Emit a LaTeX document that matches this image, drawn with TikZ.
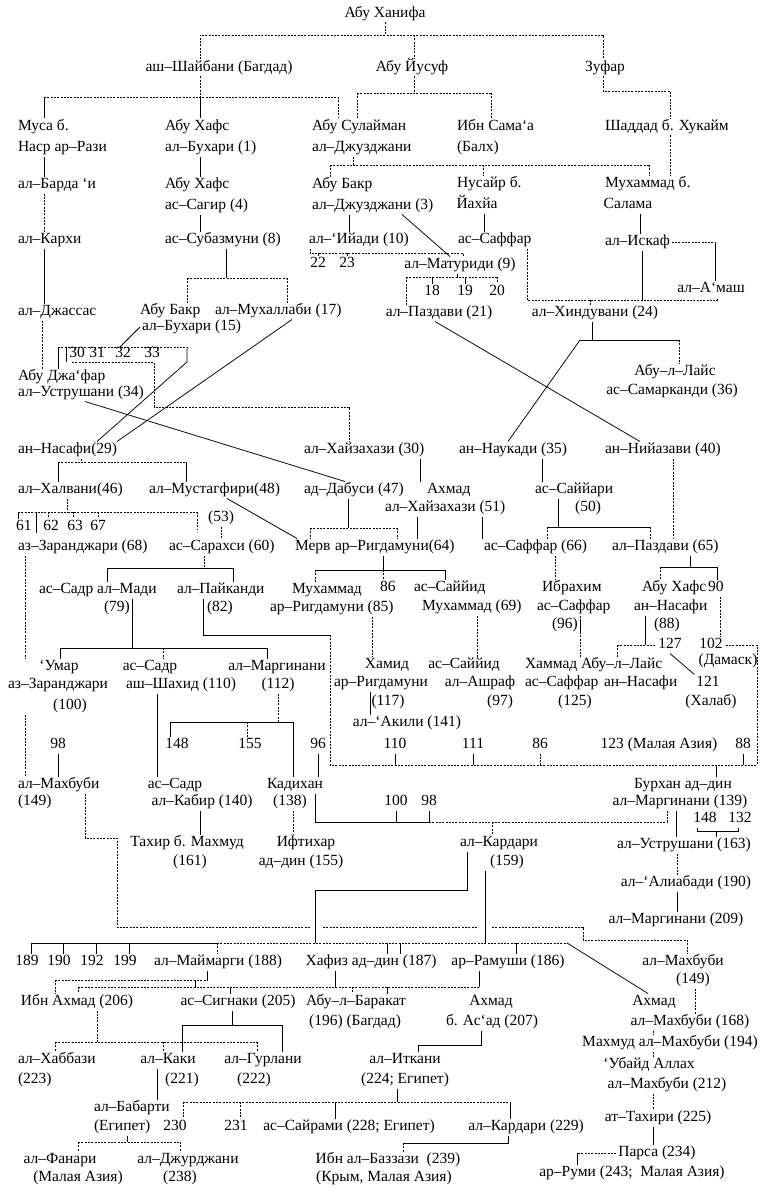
\documentclass[tikz,border=0pt]{standalone}
\usepackage{fontspec}
\setmainfont{Liberation Serif}
\begin{document}
\begin{tikzpicture}[x=1pt,y=-1pt,
  t/.style={inner sep=0pt,outer sep=2pt,text height=10pt,text depth=3pt,font=\fontsize{15.5}{17}\selectfont},
  tl/.style={t,anchor=west},
  sl/.style={line width=0.75pt},
  dl/.style={line width=0.75pt,dash pattern=on 2pt off 1.3pt}]
\useasboundingbox (0,0) rectangle (771,1188);
\fill[white] (0,0) rectangle (771,1188);
% ---------------- nodes ----------------
\node[t] (hanifa) at (385,14) {Абу Ханифа};
\node[t] (shaib) at (219,68) {аш–Шайбани (Багдад)};
\node[t] (yusuf) at (412,68) {Абу Йусуф};
\node[t] (zufar) at (605,68) {Зуфар};
\node[tl] (musa1) at (16,127) {Муса б.};
\node[tl] (musa2) at (16,148) {Наср ар–Рази};
\node[tl] (hafs1) at (163,127) {Абу Хафс};
\node[tl] (hafs2) at (163,148) {ал–Бухари (1)};
\node[tl] (sulay1) at (310,127) {Абу Сулайман};
\node[tl] (sulay2) at (310,148) {ал–Джузджани};
\node[tl] (sama1) at (455,127) {Ибн Сама‘а};
\node[tl] (sama2) at (455,148) {(Балх)};
\node[tl] (shadd) at (603,127) {Шаддад б. Хукайм};
\node[tl] (barda) at (16,185) {ал–Барда ‘и};
\node[tl] (hafs3) at (163,185) {Абу Хафс};
\node[tl] (hafs4) at (163,206) {ас–Сагир (4)};
\node[tl] (bakr1) at (310,185) {Абу Бакр};
\node[tl] (bakr2) at (310,206) {ал–Джузджани (3)};
\node[tl] (nus1) at (455,184) {Нусайр б.};
\node[t] (nus2) at (477,205) {Йахйа};
\node[tl] (mukh1) at (603,184) {Мухаммад б.};
\node[t] (mukh2) at (628,205) {Салама};
\node[tl] (karkhi) at (16,240) {ал–Кархи};
\node[tl] (subaz) at (163,240) {ас–Субазмуни (8)};
\node[tl] (iyadi) at (307,240) {ал–‘Ийади (10)};
\node[tl] (saffar1) at (456,240) {ас–Саффар};
\node[tl] (iskaf) at (603,242) {ал–Искаф};
\node[t] (n22) at (318,264) {22};
\node[t] (n23) at (347,264) {23};
\node[t] (matur) at (460,265) {ал–Матуриди (9)};
\node[t] (n18) at (432,292) {18};
\node[t] (n19) at (465,292) {19};
\node[t] (n20) at (497,292) {20};
\node[t] (amash) at (711,289) {ал–А‘маш};
\node[t] (pazd21) at (439,313) {ал–Паздави (21)};
\node[t] (hind) at (595,313) {ал–Хиндувани (24)};
\node[tl] (dzhass) at (16,312) {ал–Джассас};
\node[tl] (bakr15a) at (138,311) {Абу Бакр};
\node[tl] (muhal) at (213,311) {ал–Мухаллаби (17)};
\node[tl] (bakr15b) at (140,327) {ал–Бухари (15)};
\node[t] (n30) at (77,354) {30};
\node[t] (n31) at (97,354) {31};
\node[t] (n32) at (123,354) {32};
\node[t] (n33) at (152,354) {33};
\node[tl] (jafar1) at (16,377) {Абу Джа‘фар};
\node[tl] (jafar2) at (16,393) {ал–Уструшани (34)};
\node[t] (abul1) at (675,372) {Абу–л–Лайс};
\node[t] (abul2) at (672,391) {ас–Самарканди (36)};
\node[tl] (nasafi29) at (16,450) {ан–Насафи(29)};
\node[tl] (hayz30) at (302,450) {ал–Хайзахази (30)};
\node[tl] (naukadi) at (457,450) {ан–Наукади (35)};
\node[tl] (niyaz) at (603,450) {ан–Нийазави (40)};
\node[tl] (halv) at (16,490) {ал–Халвани(46)};
\node[tl] (must) at (147,490) {ал–Мустагфири(48)};
\node[tl] (dabusi) at (302,490) {ад–Дабуси (47)};
\node[tl] (akh51a) at (425,490) {Ахмад};
\node[tl] (akh51b) at (383,508) {ал–Хайзахази (51)};
\node[tl] (sayy1) at (533,490) {ас–Саййари};
\node[t] (sayy2) at (588,508) {(50)};
\node[t] (n61) at (24,527) {61};
\node[t] (n62) at (51,527) {62};
\node[t] (n63) at (75,527) {63};
\node[t] (n67) at (98,527) {67};
\node[t] (n53) at (221,518) {(53)};
\node[tl] (zar68) at (16,547) {аз–Заранджари (68)};
\node[tl] (sarakh) at (167,547) {ас–Сарахси (60)};
\node[tl] (merv) at (293,547) {Мерв};
\node[tl] (rigd64) at (333,547) {ар–Ригдамуни(64)};
\node[tl] (saff66) at (482,547) {ас–Саффар (66)};
\node[tl] (pazd65) at (610,547) {ал–Паздави (65)};
\node[tl] (sadr79a) at (37,590) {ас–Садр ал–Мади};
\node[tl] (sadr79b) at (102,608) {(79)};
\node[tl] (payk1) at (175,590) {ал–Пайканди};
\node[tl] (payk2) at (205,608) {(82)};
\node[tl] (muh85a) at (290,590) {Мухаммад};
\node[tl] (muh85b) at (268,608) {ар–Ригдамуни (85)};
\node[tl] (n86a) at (378,588) {86};
\node[tl] (sayy69a) at (412,588) {ас–Саййид};
\node[tl] (sayy69b) at (420,607) {Мухаммад (69)};
\node[tl] (ibr1) at (540,588) {Ибрахим};
\node[tl] (ibr2) at (535,607) {ас–Саффар};
\node[tl] (ibr3) at (550,625) {(96)};
\node[tl] (hafs88a) at (640,588) {Абу Хафс};
\node[tl] (n90) at (706,588) {90};
\node[tl] (hafs88b) at (632,607) {ан–Насафи};
\node[tl] (hafs88c) at (652,625) {(88)};
\node[t] (umar1) at (59,667) {‘Умар};
\node[t] (umar2) at (58,685) {аз–Заранджари};
\node[t] (umar3) at (70,706) {(100)};
\node[t] (sadr110a) at (150,667) {ас–Садр};
\node[t] (sadr110b) at (181,685) {аш–Шахид (110)};
\node[t] (marg112a) at (277,667) {ал–Маргинани};
\node[t] (marg112b) at (278,685) {(112)};
\node[t] (hamid1) at (387,665) {Хамид};
\node[t] (hamid2) at (381,683) {ар–Ригдамуни};
\node[t] (hamid3) at (388,702) {(117)};
\node[t] (akili) at (407,723) {ал–‘Акили (141)};
\node[t] (sayy97a) at (464,665) {ас–Саййид};
\node[t] (sayy97b) at (480,683) {ал–Ашраф};
\node[t] (sayy97c) at (500,702) {(97)};
\node[tl] (hamm1) at (523,665) {Хаммад};
\node[tl] (hamm2) at (523,683) {ас–Саффар};
\node[t] (hamm3) at (575,702) {(125)};
\node[tl] (abul88a) at (579,665) {Абу–л–Лайс};
\node[tl] (abul88b) at (602,683) {ан–Насафи};
\node[t] (n127) at (670,645) {127};
\node[t] (n102) at (711,645) {102};
\node[t] (damask) at (728,661) {(Дамаск)};
\node[t] (n121) at (708,683) {121};
\node[t] (halab) at (711,702) {(Халаб)};
\node[t] (n98) at (58,745) {98};
\node[t] (n148) at (177,745) {148};
\node[t] (n155) at (250,745) {155};
\node[t] (n96) at (318,745) {96};
\node[t] (n110) at (395,745) {110};
\node[t] (n111) at (473,745) {111};
\node[t] (n86b) at (540,745) {86};
\node[t] (n123) at (659,745) {123 (Малая Азия)};
\node[t] (n88b) at (743,745) {88};
\node[tl] (mahbL1) at (16,785) {ал–Махбуби};
\node[tl] (mahbL2) at (16,802) {(149)};
\node[t] (sadr140a) at (175,785) {ас–Садр};
\node[t] (sadr140b) at (202,802) {ал–Кабир (140)};
\node[t] (kadi1) at (295,785) {Кадихан};
\node[t] (kadi2) at (290,802) {(138)};
\node[t] (burh1) at (683,785) {Бурхан ад–дин};
\node[t] (burh2) at (680,802) {ал–Маргинани (139)};
\node[t] (n100) at (396,802) {100};
\node[t] (n98b) at (429,802) {98};
\node[t] (n148b) at (705,819) {148};
\node[t] (n132) at (740,819) {132};
\node[t] (tahir1) at (187,843) {Тахир б. Махмуд};
\node[t] (tahir2) at (190,862) {(161)};
\node[t] (ift1) at (306,843) {Ифтихар};
\node[t] (ift2) at (301,862) {ад–дин (155)};
\node[t] (kard1) at (499,843) {ал–Кардари};
\node[t] (kard2) at (507,862) {(159)};
\node[t] (ustr) at (684,845) {ал–Уструшани (163)};
\node[t] (aliab) at (686,883) {ал–‘Алиабади (190)};
\node[t] (marg209) at (676,920) {ал–Маргинани (209)};
\node[t] (n189) at (27,962) {189};
\node[t] (n190) at (59,962) {190};
\node[t] (n192) at (92,962) {192};
\node[t] (n199) at (125,962) {199};
\node[t] (maim) at (218,962) {ал–Маймарги (188)};
\node[t] (hafiz) at (371,962) {Хафиз ад–дин (187)};
\node[t] (ramu) at (508,962) {ар–Рамуши (186)};
\node[t] (mahbR1) at (683,962) {ал–Махбуби};
\node[t] (mahbR2) at (693,980) {(149)};
\node[t] (ibnah) at (77,1002) {Ибн Ахмад (206)};
\node[t] (sign) at (238,1002) {ас–Сигнаки (205)};
\node[t] (bar1) at (356,1002) {Абу–л–Баракат};
\node[t] (bar2) at (355,1022) {(196) (Багдад)};
\node[t] (akh207a) at (491,1002) {Ахмад};
\node[t] (akh207b) at (492,1022) {б. Ас‘ад (207)};
\node[t] (akh168a) at (654,1002) {Ахмад};
\node[t] (akh168b) at (690,1022) {ал–Махбуби (168)};
\node[t] (mahmud) at (670,1043) {Махмуд ал–Махбуби (194)};
\node[t] (ubayd1) at (649,1065) {‘Убайд Аллах};
\node[t] (ubayd2) at (667,1085) {ал–Махбуби (212)};
\node[t] (tahiri) at (658,1118) {ат–Тахири (225)};
\node[t] (parsa) at (657,1153) {Парса (234)};
\node[t] (rumi) at (632,1173) {ар–Руми (243;\ \ Малая Азия)};
\node[tl] (khab1) at (16,1060) {ал–Хаббази};
\node[tl] (khab2) at (16,1080) {(223)};
\node[t] (kaki1) at (168,1060) {ал–Каки};
\node[t] (kaki2) at (182,1080) {(221)};
\node[t] (gurl1) at (263,1060) {ал–Гурлани};
\node[t] (gurl2) at (254,1080) {(222)};
\node[t] (itk1) at (405,1060) {ал–Иткани};
\node[t] (itk2) at (405,1080) {(224; Египет)};
\node[tl] (bab1) at (92,1108) {ал–Бабарти};
\node[tl] (bab2) at (92,1127) {(Египет)};
\node[t] (n230) at (175,1127) {230};
\node[t] (n231) at (236,1127) {231};
\node[t] (sayr) at (349,1127) {ас–Сайрами (228; Египет)};
\node[t] (kard229) at (526,1127) {ал–Кардари (229)};
\node[t] (fan1) at (60,1160) {ал–Фанари};
\node[t] (fan2) at (78,1178) {(Малая Азия)};
\node[t] (jur1) at (188,1160) {ал–Джурджани};
\node[t] (jur2) at (180,1178) {(238)};
\node[t] (baz1) at (388,1160) {Ибн ал–Баззази\ \ (239)};
\node[t] (baz2) at (384,1178) {(Крым, Малая Азия)};
% ---------------- connectors ----------------
\draw[dl] (hanifa.south) -- (385,35);
\draw[dl] (shaib.north -| 200,0) -- (200,35) -- (603,35) -- (zufar.north -| 603,0);
\draw[dl] (414,35) -- (yusuf.north -| 414,0);
\draw[dl] (shaib.south -| 200,0) -- (200,97);
\draw[dl] (44,97) -- (338,97);
\draw[sl] (44,97) -- (musa1.north -| 44,0);
\draw[sl] (200,97) -- (hafs1.north -| 200,0);
\draw[dl] (338,97) -- (sulay1.north -| 338,0);
\draw[dl] (yusuf.south -| 414,0) -- (414,93);
\draw[dl] (357,93) -- (491,93);
\draw[dl] (357,93) -- (sulay1.north -| 357,0);
\draw[dl] (491,93) -- (sama1.north -| 491,0);
\draw[dl] (zufar.south -| 603,0) -- (603,91) -- (670,91) -- (shadd.north -| 670,0);
\draw[dl] (shadd.south -| 670,0) -- (mukh1.north -| 670,0);
\draw[sl] (musa2.south -| 44,0) -- (barda.north -| 44,0);
\draw[sl] (hafs2.south -| 200,0) -- (hafs3.north -| 200,0);
\draw[dl] (sulay2.south -| 353,0) -- (353,165);
\draw[dl] (330,165) -- (649,165);
\draw[dl] (330,165) -- (bakr1.north -| 330,0);
\draw[dl] (483,165) -- (nus1.north -| 483,0);
\draw[dl] (649,165) -- (mukh1.north -| 649,0);
\draw[dl] (barda.south -| 44,0) -- (karkhi.north -| 44,0);
\draw[sl] (hafs4.south -| 200,0) -- (subaz.north -| 200,0);
\draw[sl] (bakr2.south -| 349,0) -- (iyadi.north -| 349,0);
\draw[sl] (bakr2.south -| 402,0) -- (matur.north -| 450,0);
\draw[sl] (nus2.south -| 484,0) -- (saffar1.north -| 484,0);
\draw[sl] (mukh2.south -| 640,0) -- (iskaf.north -| 640,0);
\draw[dl] (iskaf.east) -- (715,242);
\draw[sl] (715,242) -- (amash.north -| 715,0);
\draw[dl] (iyadi.south -| 310,0) -- (310,253) -- (463,253) -- (matur.north -| 463,0);
\draw[sl] (318,253) -- (n22.north);
\draw[sl] (347,253) -- (n23.north);
\draw[sl] (matur.south -| 457,0) -- (457,277);
\draw[dl] (406,277) -- (497,277);
\draw[sl] (432,277) -- (n18.north);
\draw[sl] (465,277) -- (n19.north);
\draw[dl] (497,277) -- (n20.north);
\draw[dl] (406,277) -- (pazd21.north -| 406,0);
\draw[dl] (saffar1.south -| 527,0) -- (527,300) -- (717,300) -- (amash.south -| 717,0);
\draw[sl] (iskaf.south -| 642,0) -- (642,300);
\draw[dl] (590,300) -- (hind.north -| 590,0);
\draw[sl] (karkhi.south -| 44,0) -- (dzhass.north -| 44,0);
\draw[sl] (subaz.south -| 226,0) -- (226,278);
\draw[dl] (187,278) -- (287,278);
\draw[dl] (187,278) -- (bakr15a.north -| 187,0);
\draw[dl] (287,278) -- (muhal.north -| 287,0);
\draw[sl] (bakr15b.west) -- (120,347);
\draw[dl] (58,347) -- (187,347);
\draw[sl] (58,347) -- (jafar1.north -| 58,0);
\draw[sl] (66,347) -- (66,362);
\draw[dl] (152,347) -- (n33.north);
\draw[sl] (187,347) -- (187,362) -- (nasafi29.north -| 97,0);
\draw[dl] (72,362) -- (154,362) -- (154,407) -- (349,407) -- (hayz30.north -| 349,0);
\draw[dl] (dzhass.south -| 42,0) -- (jafar1.north -| 42,0);
\draw[sl] (hind.south -| 592,0) -- (592,340);
\draw[sl] (580,340) -- (679,340);
\draw[dl] (679,340) -- (abul1.north -| 679,0);
\draw[sl] (580,340) -- (naukadi.north -| 508,0);
\draw[sl] (pazd21.south -| 435,0) -- (niyaz.north -| 640,0);
\draw[sl] (muhal.south -| 292,0) -- (nasafi29.north -| 117,0);
\draw[sl] (jafar2.south -| 85,0) -- (dabusi.north -| 345,0);
\draw[dl] (nasafi29.south -| 81,0) -- (81,462);
\draw[dl] (58,462) -- (186,462);
\draw[sl] (58,462) -- (halv.north -| 58,0);
\draw[sl] (186,462) -- (must.north -| 186,0);
\draw[sl] (hayz30.south -| 420,0) -- (akh51a.north -| 420,0);
\draw[sl] (naukadi.south -| 542,0) -- (sayy1.north -| 542,0);
\draw[dl] (niyaz.south -| 673,0) -- (pazd65.north -| 673,0);
\draw[dl] (halv.south -| 67,0) -- (67,512);
\draw[dl] (18,512) -- (197,512);
\draw[sl] (18,512) -- (n61.north -| 18,0);
\draw[dl] (48,512) -- (n62.north -| 48,0);
\draw[dl] (73,512) -- (n63.north -| 73,0);
\draw[dl] (98,512) -- (n67.north -| 98,0);
\draw[sl] (36,512) -- (36,533);
\draw[dl] (197,512) -- (197,530);
\draw[dl] (n53.south) -- (sarakh.north -| 221,0);
\draw[sl] (must.south -| 227,0) -- (merv.north -| 297,0);
\draw[sl] (dabusi.south -| 348,0) -- (348,528);
\draw[dl] (310,528) -- (397,528);
\draw[dl] (310,528) -- (merv.north -| 310,0);
\draw[dl] (397,528) -- (rigd64.north -| 397,0);
\draw[sl] (akh51b.south -| 417,0) -- (rigd64.north -| 417,0);
\draw[sl] (akh51b.south -| 482,0) -- (saff66.north -| 482,0);
\draw[sl] (sayy1.south -| 558,0) -- (558,527);
\draw[sl] (547,527) -- (650,527);
\draw[dl] (547,527) -- (saff66.north -| 547,0);
\draw[dl] (650,527) -- (pazd65.north -| 650,0);
\draw[dl] (sarakh.south -| 204,0) -- (204,568);
\draw[sl] (107,568) -- (233,568);
\draw[sl] (107,568) -- (sadr79a.north -| 107,0);
\draw[sl] (233,568) -- (payk1.north -| 233,0);
\draw[sl] (rigd64.south -| 383,0) -- (383,570);
\draw[sl] (315,570) -- (445,570);
\draw[dl] (315,570) -- (muh85a.north -| 315,0);
\draw[dl] (383,570) -- (n86a.north -| 383,0);
\draw[sl] (445,570) -- (sayy69a.north -| 445,0);
\draw[dl] (saff66.south -| 555,0) -- (ibr1.north -| 555,0);
\draw[sl] (pazd65.south -| 690,0) -- (690,567);
\draw[sl] (660,567) -- (717,567);
\draw[dl] (660,567) -- (hafs88a.north -| 660,0);
\draw[sl] (717,567) -- (n90.north -| 717,0);
\draw[dl] (zar68.south -| 25,0) -- (umar1.north -| 25,0);
\draw[sl] (sadr79a.south -| 132,0) -- (132,648);
\draw[sl] (60,648) -- (267,648);
\draw[sl] (60,648) -- (umar1.north -| 60,0);
\draw[dl] (163,648) -- (sadr110a.north -| 163,0);
\draw[sl] (267,648) -- (marg112a.north -| 267,0);
\draw[sl] (payk1.south -| 203,0) -- (203,635) -- (330,635);
\draw[dl] (330,635) -- (330,765) -- (757,765) -- (757,645) -- (n102.east);
\draw[sl] (n110.south) -- (395,765);
\draw[sl] (n111.south) -- (473,765);
\draw[dl] (n86b.south) -- (540,765);
\draw[sl] (n88b.south) -- (743,765);
\draw[sl] (716,765) -- (burh1.north -| 716,0);
\draw[dl] (muh85b.south -| 372,0) -- (hamid1.north -| 372,0);
\draw[sl] (hamid2.south -| 370,0) -- (akili.north -| 370,0);
\draw[dl] (sayy69b.south -| 477,0) -- (sayy97a.north -| 477,0);
\draw[sl] (ibr3.east) ++(1,-6) -- ++(0,14);
\draw[dl] (ibr2.south -| 580,0) -- (hamm1.north -| 580,0);
\draw[dl] (n90.south -| 720,0) -- (n102.north -| 720,0);
\draw[sl] (hafs88b.south -| 645,0) -- (645,645);
\draw[dl] (617,645) -- (n127.west);
\draw[dl] (617,645) -- (abul88a.north -| 617,0);
\draw[sl] (n127.south) -- (n121.north west);
\draw[dl] (marg112b.south -| 278,0) -- (278,722);
\draw[sl] (170,722) -- (293,722);
\draw[sl] (170,722) -- (n148.north -| 170,0);
\draw[dl] (247,722) -- (n155.north -| 247,0);
\draw[sl] (293,722) -- (kadi1.north -| 293,0);
\draw[sl] (n96.south) -- (kadi1.north -| 318,0);
\draw[sl] (n98.south) -- (mahbL1.north -| 58,0);
\draw[dl] (umar3.south -| 25,0) -- (mahbL1.north -| 25,0);
\draw[sl] (sadr110b.south -| 157,0) -- (sadr140a.north -| 157,0);
\draw[sl] (sadr140b.south -| 200,0) -- (tahir1.north -| 200,0);
\draw[dl] (kadi2.south -| 293,0) -- (ift1.north -| 293,0);
\draw[sl] (kadi2.north -| 315,0) -- (315,822) -- (429,822);
\draw[dl] (429,822) -- (667,822) -- (burh2.south -| 667,0);
\draw[sl] (n100.south) -- (396,822);
\draw[sl] (n98b.south) -- (429,822);
\draw[dl] (492,822) -- (kard1.north -| 492,0);
\draw[sl] (burh2.south -| 676,0) -- (ustr.north -| 676,0);
\draw[sl] (n148b.south -| 697,0) -- (697,831) -- (738,831) -- (n132.south -| 738,0);
\draw[sl] (716,831) -- (ustr.north -| 716,0);
\draw[dl] (ustr.south -| 677,0) -- (aliab.north -| 677,0);
\draw[sl] (aliab.south -| 677,0) -- (marg209.north -| 677,0);
\draw[dl] (mahbL2.north -| 85,0) -- (85,838) -- (117,838) -- (117,927) -- (310,927);
\draw[dl] (323,927) -- (478,927);
\draw[dl] (492,927) -- (583,927) -- (583,940) -- (687,940) -- (mahbR1.north -| 687,0);
\draw[sl] (kard1.south -| 467,0) -- (467,890) -- (315,890) -- (315,943);
\draw[sl] (kard2.south -| 485,0) -- (485,943);
\draw[sl] (31,943) -- (217,943);
\draw[dl] (217,943) -- (567,943);
\draw[sl] (567,943) -- (akh168a.north -| 648,0);
\draw[sl] (31,943) -- (n189.north -| 31,0);
\draw[sl] (63,943) -- (n190.north -| 63,0);
\draw[sl] (96,943) -- (n192.north -| 96,0);
\draw[sl] (129,943) -- (n199.north -| 129,0);
\draw[dl] (217,943) -- (maim.north -| 217,0);
\draw[sl] (387,943) -- (hafiz.north -| 387,0);
\draw[sl] (400,943) -- (hafiz.north -| 400,0);
\draw[sl] (516,943) -- (ramu.north -| 516,0);
\draw[dl] (mahbR2.south -| 695,0) -- (akh168b.north -| 695,0);
\draw[sl] (maim.south -| 207,0) -- (207,980);
\draw[dl] (55,980) -- (207,980);
\draw[dl] (55,980) -- (ibnah.north -| 55,0);
\draw[sl] (195,980) -- (195,987);
\draw[sl] (hafiz.south -| 335,0) -- (335,987);
\draw[dl] (78,987) -- (479,987);
\draw[dl] (78,987) -- (ibnah.north -| 78,0);
\draw[sl] (230,987) -- (sign.north -| 230,0);
\draw[dl] (352,987) -- (bar1.north -| 352,0);
\draw[sl] (387,987) -- (bar1.north -| 387,0);
\draw[sl] (ramu.south -| 479,0) -- (479,987);
\draw[dl] (ibnah.south -| 97,0) -- (97,1042);
\draw[dl] (55,1042) -- (257,1042);
\draw[dl] (55,1042) -- (khab1.north -| 55,0);
\draw[dl] (163,1042) -- (kaki1.north -| 163,0);
\draw[dl] (257,1042) -- (gurl1.north -| 257,0);
\draw[sl] (sign.south -| 232,0) -- (232,1025);
\draw[sl] (182,1025) -- (282,1025);
\draw[sl] (182,1025) -- (kaki1.north -| 182,0);
\draw[sl] (282,1025) -- (gurl1.north -| 282,0);
\draw[sl] (akh207b.south -| 481,0) -- (481,1045) -- (418,1045) -- (itk1.north -| 418,0);
\draw[sl] (kaki1.south -| 157,0) -- (bab1.north -| 157,0);
\draw[sl] (itk2.south -| 397,0) -- (397,1102);
\draw[dl] (183,1102) -- (510,1102);
\draw[dl] (183,1102) -- (n230.north -| 183,0);
\draw[dl] (240,1102) -- (n231.north -| 240,0);
\draw[sl] (335,1102) -- (sayr.north -| 335,0);
\draw[sl] (510,1102) -- (kard229.north -| 510,0);
\draw[sl] (bab2.south -| 127,0) -- (127,1142);
\draw[dl] (78,1142) -- (180,1142);
\draw[dl] (78,1142) -- (fan1.north -| 78,0);
\draw[dl] (180,1142) -- (jur1.north -| 180,0);
\draw[sl] (kard229.south -| 508,0) -- (508,1143) -- (403,1143);
\draw[dl] (403,1143) -- (baz1.north -| 403,0);
\draw[dl] (akh168b.south -| 653,0) -- (mahmud.north -| 653,0);
\draw[dl] (mahmud.south -| 653,0) -- (ubayd1.north -| 653,0);
\draw[dl] (ubayd2.south -| 653,0) -- (tahiri.north -| 653,0);
\draw[sl] (tahiri.south -| 653,0) -- (parsa.north -| 653,0);
\draw[dl] (parsa.west) -- (577,1153);
\draw[sl] (577,1153) -- (rumi.north -| 577,0);
\end{tikzpicture}
\end{document}
